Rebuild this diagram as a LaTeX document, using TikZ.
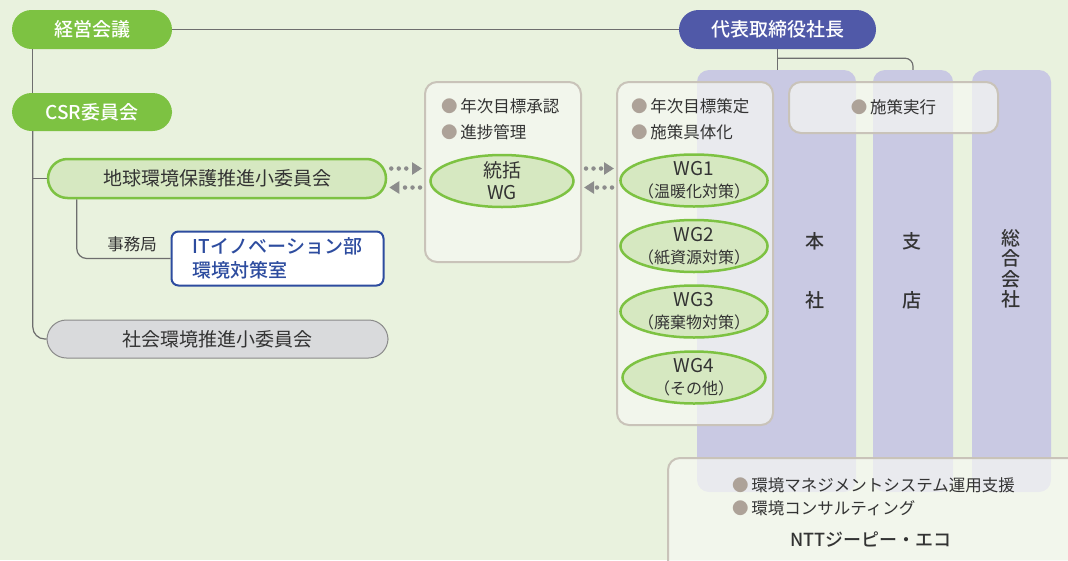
\documentclass[tikz,border=0pt]{standalone}
\usepackage{fontspec}
\setmainfont{Noto Sans CJK JP}[BoldFont={Noto Sans CJK JP Medium}]
\usepackage{xcolor}
\usepackage{tikz}
\usetikzlibrary{arrows.meta,shapes.geometric}
\definecolor{bg}{HTML}{E9F2DE}
\definecolor{leaf}{HTML}{7DC242}
\definecolor{leaflight}{HTML}{D6E8C1}
\definecolor{indigo}{HTML}{5059A8}
\definecolor{column}{HTML}{C9C9E3}
\definecolor{boxfill}{HTML}{F7F9F3}
\definecolor{boxline}{HTML}{C9C3B9}
\definecolor{dotc}{HTML}{ADA298}
\definecolor{ink}{HTML}{333333}
\definecolor{office}{HTML}{2D4C9F}
\definecolor{grayfill}{HTML}{D9DADC}
\definecolor{grayline}{HTML}{8A8A8A}
\definecolor{wire}{HTML}{6E6E6E}
\definecolor{arr}{HTML}{8C8C8C}
\newcommand\bul{{\color{dotc}●}\,}
\tikzset{
  conn/.style={draw=wire, line width=1.2pt},
  darrow/.style={draw=arr, line width=4.5pt, line cap=round, dash pattern=on 0pt off 7.5pt,
    -{Triangle[length=10pt,width=12pt]}, shorten <=4pt, shorten >=2pt},
  pill/.style={rectangle, rounded corners=19.5pt, minimum height=39pt, inner sep=0pt,
    font=\fontsize{19}{23}\selectfont},
  greenpill/.style={pill, fill=leaf, text=white, minimum width=160pt, font=\fontsize{19}{23}\selectfont\bfseries},
  bluepill/.style={pill, fill=indigo, text=white, minimum width=197pt, font=\fontsize{19}{23}\selectfont\bfseries},
  wgpill/.style={pill, fill=leaflight, draw=leaf, line width=2.5pt, text=ink, minimum width=338pt, minimum height=39pt},
  graypill/.style={pill, fill=grayfill, draw=grayline, line width=1pt, text=ink, minimum width=341pt, minimum height=38pt},
  officebox/.style={rectangle, rounded corners=7pt, fill=white, draw=office, line width=2pt, text=office,
    align=left, minimum width=212pt, minimum height=54pt, font=\fontsize{19}{24}\selectfont\bfseries},
  pbox/.style={rectangle, rounded corners=12pt, fill=boxfill, fill opacity=0.7, text opacity=1,
    draw=boxline, line width=2pt, inner sep=0pt, text=ink, font=\fontsize{16.5}{20}\selectfont},
  col/.style={rectangle, rounded corners=12pt, fill=column, inner sep=0pt, minimum height=422pt},
  collbl/.style={text=ink, align=center, inner sep=0pt, font=\fontsize{19}{59}\selectfont\bfseries},
  wgell/.style={ellipse, fill=leaflight, draw=leaf, line width=2.5pt, inner sep=-4pt, text=ink,
    align=center, minimum width=143pt, minimum height=52pt, font=\fontsize{19}{22}\selectfont},
  sub/.style={font=\fontsize{16}{18}\selectfont},
  blist/.style={anchor=west, align=left, text=ink, inner sep=0pt, font=\fontsize{16.5}{26}\selectfont},
  lbl/.style={text=ink, inner sep=0pt, font=\fontsize{16.5}{20}\selectfont}
}
\begin{document}
\begin{tikzpicture}[x=1pt,y=-1pt]
  \fill[bg] (0,0) rectangle (1068,560);
  \useasboundingbox (0,0) rectangle (1068,560);

  % columns
  \node[col, minimum width=159pt] (honsha) at (776.5,281) {};
  \node[col, minimum width=80pt] (shiten) at (913,281) {};
  \node[col, minimum width=79pt] (sogo) at (1011.5,281) {};

  % left side
  \node[greenpill] (keiei) at (92,29.5) {経営会議};
  \node[greenpill, minimum height=38pt] (csr) at (92,112) {CSR委員会};
  \node[bluepill] (daihyo) at (777.5,29.5) {代表取締役社長};
  \node[wgpill] (chikyu) at (217,178.5) {地球環境保護推進小委員会};
  \node[graypill] (shakai) at (217.5,339) {社会環境推進小委員会};
  \node[officebox] (it) at (277.5,258.5) {ITイノベーション部\\環境対策室};
  \node[lbl] (jimu) at (132,244) {事務局};

  \coordinate (spine) at ([xshift=21pt]keiei.south west);
  \draw[conn] (keiei.east) -- (daihyo.west);
  \draw[conn] (spine) -- (spine |- csr.north);
  \draw[conn, rounded corners=12pt] (spine |- csr.south) |- (shakai.west);
  \draw[conn] (spine |- chikyu.west) -- (chikyu.west);
  \draw[conn, rounded corners=10pt] ([xshift=30pt]chikyu.south west) |- (it.west);
  \draw[conn] (daihyo.south) -- (daihyo.south |- honsha.north);
  \draw[conn, rounded corners=8pt] ([yshift=-9pt]daihyo.south) -| (shiten.north);

  % boxes
  \node[pbox, minimum width=156pt, minimum height=180pt] (tbox) at (503,172) {};
  \node[pbox, minimum width=156pt, minimum height=343pt] (wgbox) at (695,253.5) {};
  \node[pbox, minimum width=209pt, minimum height=51pt] (jikko) at (893.5,107.5) {\bul 施策実行};
  \node[pbox, minimum width=420pt, minimum height=124pt] (ntt) at (878,520) {};

  \node[blist] (tnote) at (441,119) {\bul 年次目標承認\\\bul 進捗管理};
  \node[blist] (wgnote) at (631,119.5) {\bul 年次目標策定\\\bul 施策具体化};
  \node[blist, font=\fontsize{16.5}{23}\selectfont] (nttnote) at (732,496.5)
    {\bul 環境マネジメントシステム運用支援\\\bul 環境コンサルティング};
  \node[lbl, font=\fontsize{18}{20}\selectfont\bfseries] (nttL) at (871,540) {NTTジーピー・エコ};

  % working groups
  \node[wgell] (togatsu) at (502,181) {統括\\WG};
  \node[wgell] (wg1) at (694,180.5) {WG1\\{\fontsize{16}{18}\selectfont（温暖化対策）}};
  \node[wgell] (wg2) at (694,246) {WG2\\{\fontsize{16}{18}\selectfont（紙資源対策）}};
  \node[wgell] (wg3) at (694,311.5) {WG3\\{\fontsize{16}{18}\selectfont（廃棄物対策）}};
  \node[wgell] (wg4) at (694,377.5) {WG4\\{\fontsize{16}{18}\selectfont（その他）}};

  % column labels
  \node[collbl] (honshaL) at (815,270.5) {本\\社};
  \node[collbl] (shitenL) at (912,270.5) {支\\店};
  \node[collbl, font=\fontsize{19}{20.5}\selectfont\bfseries] (sogoL) at (1011,269) {総\\合\\会\\社};

  % dotted arrows
  \draw[darrow] ([yshift=10pt]chikyu.east) -- ([yshift=10pt]chikyu.east -| tbox.west);
  \draw[darrow] ([yshift=-9pt]chikyu.east -| tbox.west) -- ([yshift=-9pt]chikyu.east);
  \draw[darrow] ([yshift=10pt]chikyu.east -| tbox.east) -- ([yshift=10pt]chikyu.east -| wgbox.west);
  \draw[darrow] ([yshift=-9pt]chikyu.east -| wgbox.west) -- ([yshift=-9pt]chikyu.east -| tbox.east);
\end{tikzpicture}
\end{document}
